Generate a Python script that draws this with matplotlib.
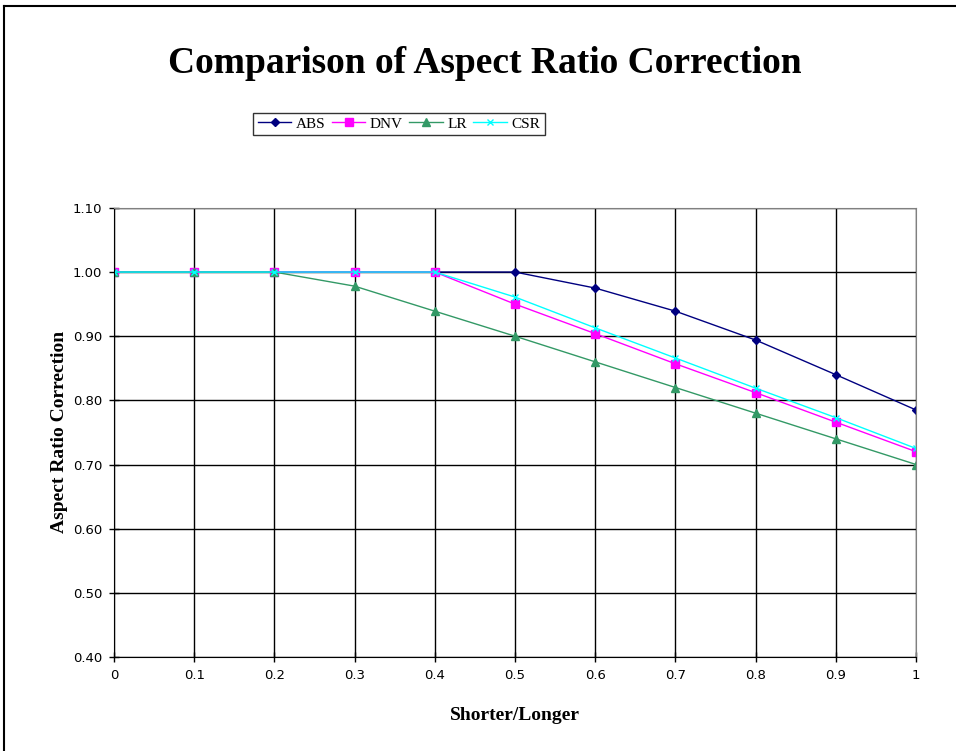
import numpy as np
import matplotlib.pyplot as plt
from matplotlib.lines import Line2D

# ratio of shorter to longer side
ratio = [0, 0.1, 0.2, 0.3, 0.4, 0.5, 0.6, 0.7, 0.8, 0.9, 1.0]

abs_corr = [1.0, 1.0, 1.0, 1.0, 1.0, 1.0, 0.975, 0.939, 0.894, 0.840, 0.785]
dnv_corr = [1.0, 1.0, 1.0, 1.0, 1.0, 0.950, 0.904, 0.857, 0.812, 0.766, 0.720]
lr_corr = [1.0, 1.0, 1.0, 0.978, 0.939, 0.900, 0.860, 0.820, 0.780, 0.740, 0.700]
csr_corr = [1.0, 1.0, 1.0, 1.0, 1.0, 0.961, 0.913, 0.866, 0.819, 0.773, 0.725]

y_ticks = [0.40, 0.50, 0.60, 0.70, 0.80, 0.90, 1.00, 1.10]

plt.rcParams['font.family'] = ['Liberation Serif', 'DejaVu Serif']

fig = plt.figure(figsize=(9.56, 7.51), dpi=100)
ax = fig.add_axes([0.1192, 0.1252, 0.839, 0.598])

ax.plot(ratio, abs_corr, color='#000080', marker='D', markersize=4.5, linewidth=1, label='ABS')
ax.plot(ratio, dnv_corr, color='#FF00FF', marker='s', markersize=5.5, linewidth=1, label='DNV')
ax.plot(ratio, lr_corr, color='#339966', marker='^', markersize=6, linewidth=1, label='LR')
ax.plot(ratio, csr_corr, color='#00FFFF', marker='x', markersize=5, linewidth=1,
        markeredgewidth=1, label='CSR')

ax.set_xlim(0, 1)
ax.set_ylim(0.40, 1.10)
ax.set_xticks(ratio)
ax.set_xticklabels(['0', '0.1', '0.2', '0.3', '0.4', '0.5', '0.6', '0.7', '0.8', '0.9', '1'])
ax.set_yticks(y_ticks)
ax.set_yticklabels(['%.2f' % v for v in y_ticks])
ax.tick_params(labelsize=9.5, direction='inout', length=7, width=1, color='black', pad=5)
for lbl in ax.get_xticklabels() + ax.get_yticklabels():
    lbl.set_family('DejaVu Sans')
ax.grid(True, color='black', linewidth=1)
ax.set_axisbelow(True)

for side in ['top', 'right']:
    ax.spines[side].set_color('#808080')
for side in ['left', 'bottom']:
    ax.spines[side].set_color('black')

ax.set_xlabel('Shorter/Longer', fontsize=14, fontweight='bold', labelpad=18)
ax.set_ylabel('Aspect Ratio Correction', fontsize=14, fontweight='bold', labelpad=3)

fig.text(0.507, 0.916, 'Comparison of Aspect Ratio Correction', ha='center', va='center',
         fontsize=27, fontweight='bold')

leg = ax.legend(loc='center', bbox_to_anchor=(399 / 956, 1 - 124 / 751),
                bbox_transform=fig.transFigure, ncol=4, fontsize=11, frameon=True,
                fancybox=False, edgecolor='black', handlelength=2.2, handletextpad=0.3,
                columnspacing=0.4, borderpad=0.3)
leg.get_frame().set_linewidth(1)

# chart area border (left and top edges only are visible)
fig.add_artist(Line2D([4 / 956, 4 / 956], [0, 1 - 6 / 751], transform=fig.transFigure,
                      color='black', linewidth=1.5))
fig.add_artist(Line2D([4 / 956, 1], [1 - 6 / 751, 1 - 6 / 751], transform=fig.transFigure,
                      color='black', linewidth=1.5))

fig.savefig('out.png', dpi=100)
